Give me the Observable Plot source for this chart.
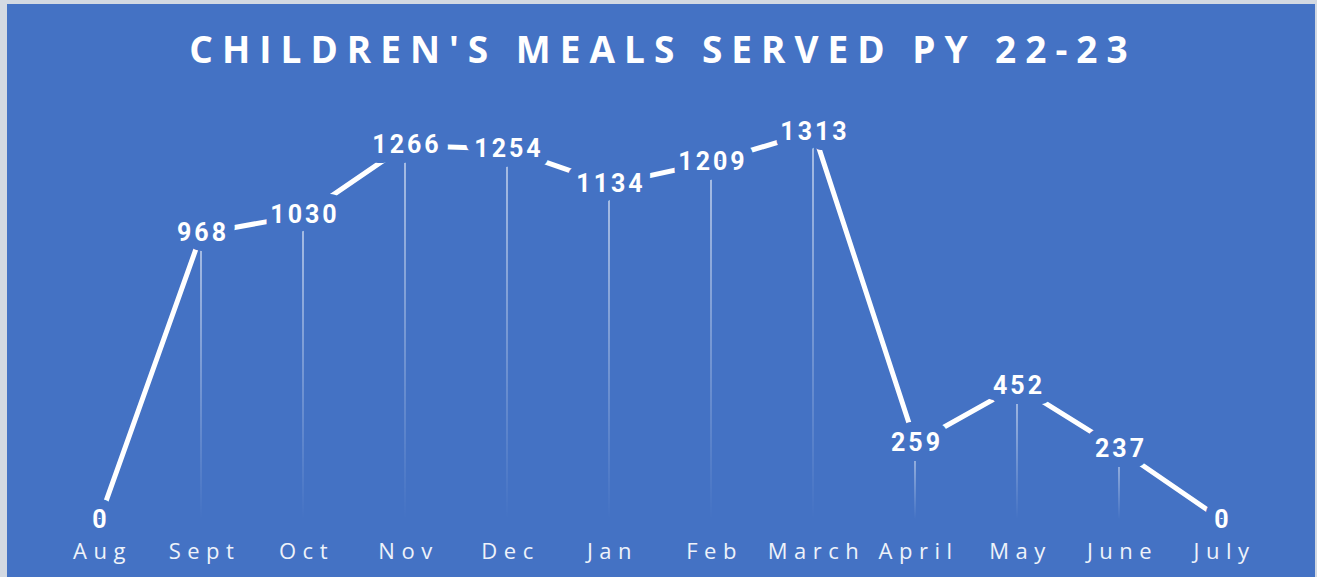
<!DOCTYPE html>
<html><head><meta charset="utf-8">
<script src="https://cdn.jsdelivr.net/npm/d3@7"></script>
<script src="https://cdn.jsdelivr.net/npm/@observablehq/plot@0.6"></script>
<style>
html,body{margin:0;padding:0;background:#D3D9E2;width:1317px;height:577px;overflow:hidden}
#card{position:absolute;left:7px;top:4px;width:1308px;height:573px;background:#4472C4;overflow:hidden}
#title{position:absolute;left:2px;top:27px;width:1308px;text-align:center;color:#fff;font-family:"Open Sans",sans-serif;font-weight:700;font-size:37px;line-height:36px;letter-spacing:9px;white-space:nowrap}
#chart{position:absolute;left:0;top:100px}
#chart g[aria-label="text"] text{letter-spacing:3px;font-variant:normal;font-family:Roboto,sans-serif}
#chart g[aria-label="x-axis tick label"] text{letter-spacing:6.5px}
</style>
</head><body>
<div id="card"><div id="title">CHILDREN'S MEALS SERVED PY 22-23</div><div id="chart"></div></div>
<script>
const months = ["Aug","Sept","Oct","Nov","Dec","Jan","Feb","March","April","May","June","July"];
const meals = [0,968,1030,1266,1254,1134,1209,1313,259,452,237,0];
const bg = "#4472C4";
const data = months.map((m,i)=>({month:m, value:meals[i]}));
const W = 1308, step = (1218-89)/11;
const defs = () => {
  const d = d3.create("svg:defs");
  const g = d.append("linearGradient").attr("id","dropGrad").attr("x1",0).attr("y1",0).attr("x2",0).attr("y2",1);
  g.append("stop").attr("offset","0%").attr("stop-color","#fff").attr("stop-opacity",0.8);
  g.append("stop").attr("offset","100%").attr("stop-color","#fff").attr("stop-opacity",0);
  return d.node();
};
const chart = Plot.plot({
  width: W, height: 473,
  marginTop: 27, marginBottom: 58,
  marginLeft: 89 - step/2, marginRight: W - (1218 + step/2),
  style: {background: "transparent", color: "white", fontFamily: "'Open Sans', sans-serif"},
  x: {domain: months, padding: 0, axis: null},
  y: {domain: [0, 1313], axis: null},
  marks: [
    defs,
    Plot.barY(data, {x: "month", y: "value", fill: "url(#dropGrad)", insetLeft: step/2 - 1, insetRight: step/2 - 1}),
    Plot.line(data, {x: "month", y: "value", stroke: "white", strokeWidth: 5}),
    Plot.text(data, {x: "month", y: "value", text: d => String(d.value), fill: "white", stroke: bg, strokeWidth: 20, fontSize: 25, fontWeight: "bold", fontVariant: "normal", dx: 1.5}),
    Plot.axisX({domain: months, tickSize: 0, tickPadding: 24, fontSize: 22, fill: "#EEF2FA", label: null, dx: 3})
  ]
});
document.getElementById("chart").appendChild(chart);
</script>
</body></html>
